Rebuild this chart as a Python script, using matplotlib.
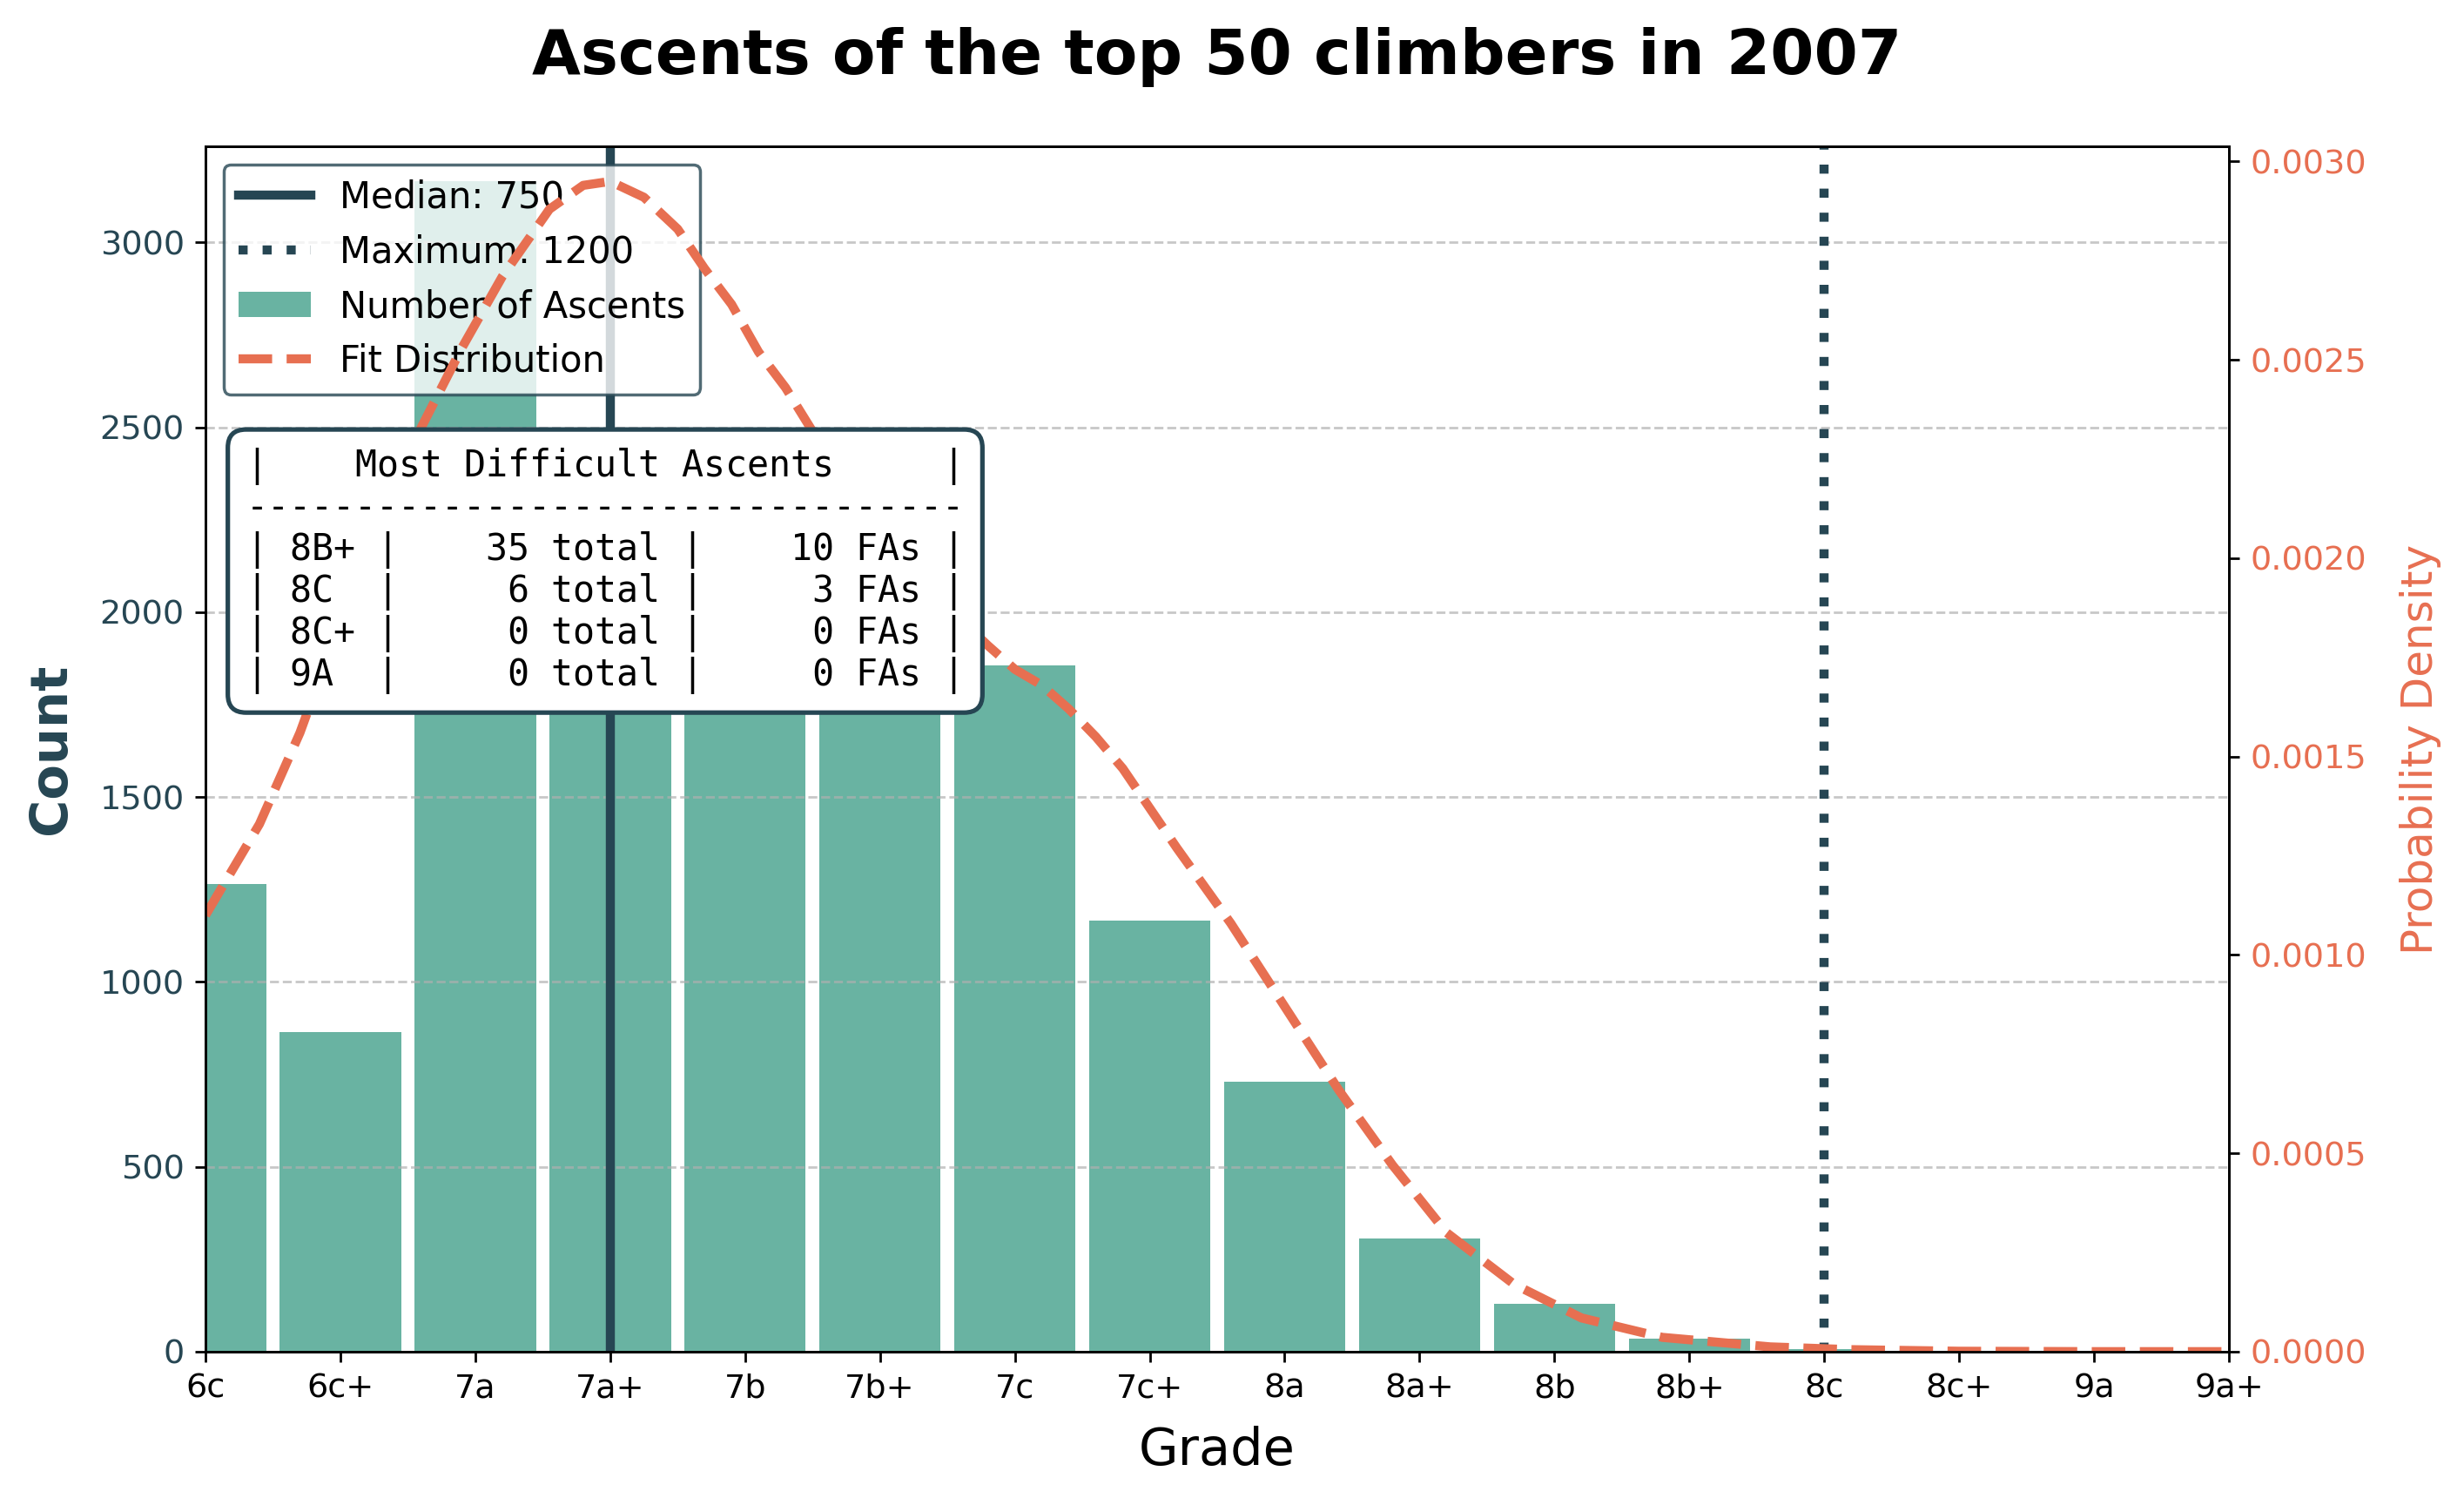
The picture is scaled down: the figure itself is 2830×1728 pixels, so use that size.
import numpy as np
import matplotlib
matplotlib.use("Agg")
import matplotlib.pyplot as plt

# grades on the x axis and number of ascents per grade
grades = ['6c', '6c+', '7a', '7a+', '7b', '7b+', '7c', '7c+',
          '8a', '8a+', '8b', '8b+', '8c', '8c+', '9a', '9a+']
counts = [1265, 865, 3165, 2490, 1785, 1765, 1855, 1165,
          730, 305, 130, 35, 6, 0, 0, 0]

# fitted density (x in grade index units)
fit_x = [0.0, 0.4, 0.7, 1.0, 1.3, 1.6, 1.9, 2.2, 2.55, 2.8, 3.0, 3.25, 3.5,
         3.7, 3.9, 4.1, 4.3, 4.5, 4.8, 5.1, 5.4, 5.8, 6.0, 6.2, 6.4, 6.6,
         6.8, 7.0, 7.2, 7.6, 8.0, 8.4, 8.8, 9.2, 9.7, 10.2, 10.8, 11.6, 12.2,
         13.0, 14.0, 15.0]
fit_density = [0.00110, 0.00133, 0.00156, 0.00184, 0.00210, 0.00233, 0.00253,
               0.00271, 0.00288, 0.00294, 0.00295, 0.00291, 0.00283, 0.00273,
               0.00264, 0.00252, 0.00243, 0.00232, 0.00218, 0.00204, 0.00191,
               0.00178, 0.00172, 0.00168, 0.00162, 0.00155, 0.00147, 0.00137,
               0.00127, 0.00108, 0.00087, 0.00066, 0.00047, 0.00030, 0.00017,
               0.000085, 0.000036, 0.000012, 0.000005, 0.000001, 0.0, 0.0]

median_grade, median_pts = '7a+', 750
max_grade, max_pts = '8c', 1200

# most difficult ascents table
hard_grades = ['8B+', '8C', '8C+', '9A']
hard_total = [35, 6, 0, 0]
hard_fas = [10, 3, 0, 0]

dark = '#264653'
teal = '#69b3a2'
orange = '#E76F51'

fig, ax = plt.subplots(figsize=(11.32, 6.912), dpi=250)
fig.subplots_adjust(left=0.0834, right=0.9046, bottom=0.1019, top=0.9028)

x = np.arange(len(grades))
ax.bar(x, counts, width=0.9, color=teal, label='Number of Ascents')
ax.axvline(grades.index(median_grade), color=dark, lw=3, label=f'Median: {median_pts}')
ax.axvline(grades.index(max_grade), color=dark, lw=3, linestyle=':', label=f'Maximum: {max_pts}')
ax.set_xlim(0, len(grades) - 1)
ax.set_ylim(0, max(counts) * 1.03)
ax.set_xticks(x)
ax.set_xticklabels(grades, fontsize=11)
ax.tick_params(axis='y', labelcolor=dark, labelsize=11)
ax.grid(axis='y', linestyle='--', alpha=0.7)
ax.set_xlabel('Grade', fontsize=17, labelpad=7)
ax.set_ylabel('Count', fontsize=17, fontweight='bold', color=dark, labelpad=8)
ax.set_title('Ascents of the top 50 climbers in 2007', fontsize=20.8,
             fontweight='bold', pad=24)

ax2 = ax.twinx()
ax2.plot(fit_x, fit_density, color=orange, lw=3, linestyle='--', label='Fit Distribution')
ax2.set_ylim(0, max(fit_density) * 1.03)
ax2.set_ylabel('Probability Density', fontsize=14.4, color=orange, labelpad=11)
ax2.tick_params(axis='y', labelcolor=orange, labelsize=11)

h1, l1 = ax.get_legend_handles_labels()
h2, l2 = ax2.get_legend_handles_labels()
leg = ax.legend(h1 + h2, l1 + l2, loc='upper left', fontsize=12)
leg.get_frame().set_edgecolor(dark)

rows = [f"|{'Most Difficult Ascents':^31}|", '-' * 33]
for g, t, f in zip(hard_grades, hard_total, hard_fas):
    rows.append(f"| {g:<4}| {t:>5} total | {f:>5} FAs |")
ax2.text(0.02, 0.75, '\n'.join(rows), transform=ax2.transAxes, fontsize=12,
         family='DejaVu Sans Mono', va='top', ha='left', linespacing=1.16,
         bbox=dict(boxstyle='round,pad=0.5', facecolor='white', edgecolor=dark, lw=1.5))

fig.savefig('out.png', dpi=250)
